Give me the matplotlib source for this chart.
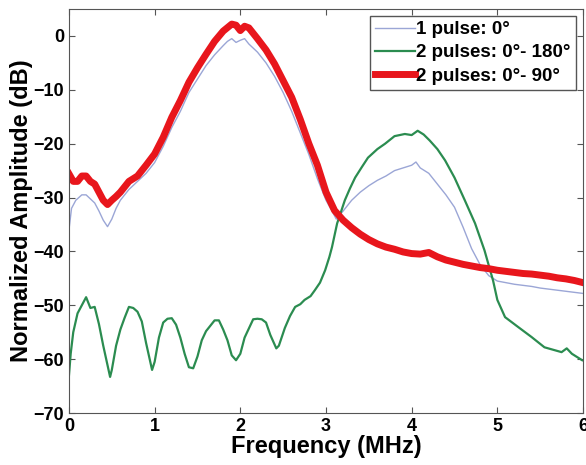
import matplotlib.pyplot as plt

plt.rcParams['font.family'] = ['Liberation Sans', 'DejaVu Sans']
plt.rcParams['font.weight'] = 'bold'

# 1 pulse: 0°
f_one = [0.0, 0.03, 0.08, 0.15, 0.2, 0.3, 0.35, 0.4, 0.45, 0.5, 0.55, 0.6, 0.7, 0.8, 0.9,
         1.0, 1.1, 1.2, 1.3, 1.4, 1.5, 1.6, 1.7, 1.8, 1.85, 1.9, 1.95, 2.0, 2.05, 2.1, 2.2,
         2.3, 2.4, 2.5, 2.6, 2.7, 2.8, 2.9, 3.0, 3.07, 3.12, 3.2, 3.3, 3.4, 3.5, 3.6, 3.7,
         3.8, 3.9, 4.0, 4.05, 4.1, 4.2, 4.3, 4.4, 4.5, 4.6, 4.7, 4.8, 4.9, 5.0, 5.1, 5.2,
         5.3, 5.4, 5.5, 5.6, 5.7, 5.8, 5.9, 6.0]
db_one = [-36, -32, -30.5, -29.5, -29.5, -31, -32.5, -34.2, -35.4, -34, -32, -30.5, -28.5, -27, -25.5,
          -23.5, -20.5, -17, -14, -10.5, -8, -5.5, -3.5, -1.8, -1.0, -0.5, -1.2, -0.8, -0.5, -1.5, -3,
          -5, -7.5, -10.5, -14, -18, -22, -26.5, -30.5, -32.5, -34, -32.5, -30.5, -29, -27.8, -26.8, -26,
          -25, -24.5, -24, -23.4, -24.5, -25.5, -27.5, -29.5, -31.8, -35.5, -39.5, -42.5, -44.5, -45.5, -45.8, -46.1,
          -46.3, -46.5, -46.8, -47, -47.2, -47.4, -47.6, -47.8]

# 2 pulses: 0°- 180°
f_two180 = [0.0, 0.02, 0.05, 0.1, 0.15, 0.2, 0.25, 0.3, 0.35, 0.4, 0.48, 0.5, 0.55, 0.6, 0.65,
            0.7, 0.75, 0.8, 0.85, 0.9, 0.97, 1.0, 1.05, 1.1, 1.15, 1.2, 1.25, 1.3, 1.35, 1.4,
            1.45, 1.5, 1.55, 1.6, 1.65, 1.7, 1.75, 1.8, 1.85, 1.9, 1.95, 2.0, 2.05, 2.1, 2.15,
            2.2, 2.25, 2.3, 2.35, 2.42, 2.45, 2.52, 2.58, 2.64, 2.7, 2.75, 2.82, 2.87, 2.93, 2.99,
            3.04, 3.07, 3.13, 3.22, 3.28, 3.34, 3.42, 3.49, 3.6, 3.69, 3.8, 3.92, 4.0, 4.07,
            4.14, 4.21, 4.3, 4.39, 4.5, 4.62, 4.74, 4.85, 4.95, 5.0, 5.09, 5.24, 5.4, 5.55,
            5.75, 5.81, 5.87, 5.99]
db_two180 = [-63, -59, -55, -51.5, -50, -48.5, -50.5, -50.3, -53.5, -57.5, -63.3, -62, -57.5, -54.5, -52.3,
             -50.3, -50.5, -51.2, -53, -57, -62, -60.5, -56, -53.2, -52.5, -52.4, -53.6, -56, -59, -61.5,
             -61.7, -59.5, -56.5, -54.8, -53.8, -52.8, -52.8, -54.5, -56.5, -59.3, -60.2, -59, -56, -54.3, -52.6,
             -52.5, -52.6, -53.2, -55.5, -58, -57.5, -54.2, -52, -50.3, -49.8, -49, -48.3, -47.2, -45.8, -43.5,
             -41, -39.2, -34.8, -30.5, -28.3, -26.3, -24.3, -22.6, -21, -20, -18.6, -18.2, -18.4, -17.6,
             -18.3, -19.4, -21, -23.1, -26.3, -30.5, -34.8, -39.8, -45.4, -49, -52.2, -54, -55.9, -57.8,
             -58.7, -58, -59, -60.2]

# 2 pulses: 0°- 90°
f_two90 = [0.0, 0.05, 0.1, 0.15, 0.2, 0.25, 0.3, 0.35, 0.4, 0.45, 0.5, 0.55, 0.6, 0.7, 0.8, 0.9,
           1.0, 1.1, 1.2, 1.3, 1.4, 1.5, 1.6, 1.7, 1.8, 1.9, 1.95, 2.0, 2.05, 2.1, 2.2, 2.3,
           2.4, 2.5, 2.6, 2.7, 2.8, 2.9, 3.0, 3.1, 3.2, 3.3, 3.4, 3.5, 3.6, 3.7, 3.8, 3.9,
           4.0, 4.1, 4.2, 4.3, 4.4, 4.5, 4.6, 4.7, 4.8, 4.9, 5.0, 5.1, 5.2, 5.3, 5.4, 5.5,
           5.6, 5.7, 5.8, 5.9, 6.0]
db_two90 = [-25.6, -27, -27, -26, -26, -27, -27.5, -29, -30.5, -31.3, -30.5, -29.8, -29, -27, -26, -24,
            -21.9, -18.8, -15.1, -12, -8.6, -5.9, -3.4, -1.0, 0.9, 2.2, 2.0, 1.0, 1.8, 1.5, -0.5, -2.6,
            -5.2, -8.3, -11.4, -15.5, -20, -24, -29, -32.4, -34.2, -35.6, -36.8, -37.8, -38.6, -39.2, -39.6, -40.1,
            -40.4, -40.5, -40.2, -41, -41.6, -42, -42.4, -42.7, -43, -43.2, -43.5, -43.7, -43.9, -44.1, -44.2, -44.4,
            -44.6, -44.9, -45.1, -45.4, -45.8]

fig = plt.figure(figsize=(5.86, 4.65), dpi=100)
ax = fig.add_axes([0.1177, 0.1118, 0.8772, 0.8688])

ax.plot(f_one, db_one, color='#9ba6d6', lw=1.0, label='1 pulse: 0°')
ax.plot(f_two180, db_two180, color='#2b8c50', lw=1.6, label='2 pulses: 0°- 180°')
ax.plot(f_two90, db_two90, color='#e8161c', lw=5.0, label='2 pulses: 0°- 90°')

ax.set_xlim(0, 6)
ax.set_ylim(-70, 5)
ax.set_xticks(range(0, 7))
ax.set_yticks(range(-70, 1, 10))
ax.tick_params(direction='in', top=True, right=True, labelsize=13, length=4, color='#555555')
for s in ax.spines.values():
    s.set_color('#555555')
ax.set_xlabel('Frequency (MHz)', fontsize=17, fontweight='bold', labelpad=0)
ax.set_ylabel('Normalized Amplitude (dB)', fontsize=17, fontweight='bold', labelpad=0)

leg = ax.legend(loc='upper right', fontsize=13.5, frameon=True, fancybox=False,
                framealpha=1, edgecolor='#555555', handlelength=2.1, handletextpad=0.1,
                borderpad=0.3, labelspacing=0.32, borderaxespad=0.35)
leg.get_frame().set_linewidth(1.0)

fig.savefig('out.png', dpi=100)
